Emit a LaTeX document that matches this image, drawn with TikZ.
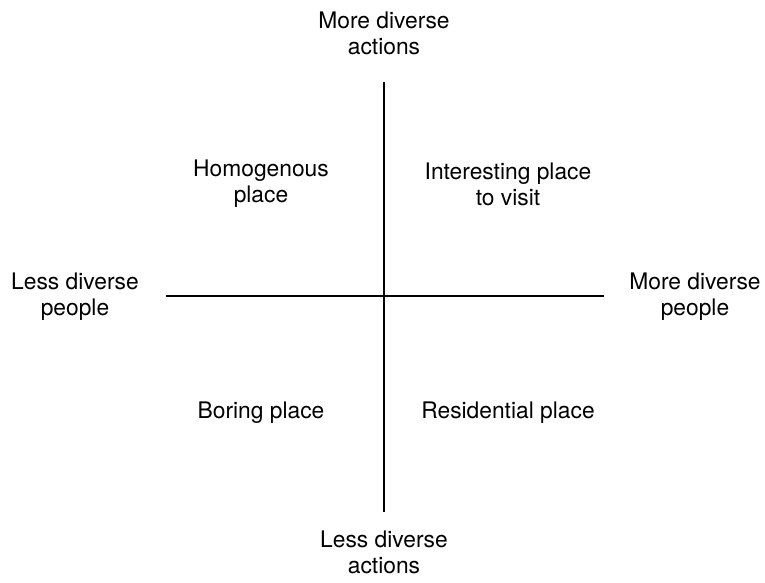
\documentclass[tikz,border=0pt]{standalone}
\usepackage{fontspec}
\setmainfont{TeX Gyre Heros}
\begin{document}
\begin{tikzpicture}[x=1pt,y=-1pt,
  axis/.style={line width=1.3pt,black},
  lbl/.style={align=center,inner sep=0pt,font=\fontsize{22.8}{26}\selectfont}]
\useasboundingbox (0,0) rectangle (765,582);
% axes
\coordinate (vtop) at (384,82);
\coordinate (vbot) at (384,512);
\coordinate (hleft) at (166,296);
\coordinate (hright) at (604,296);
\draw[axis] (vtop) -- (vbot);
\draw[axis] (hleft) -- (hright);
% axis labels
\node[lbl] (top) at (384,33) {More diverse\\actions};
\node[lbl] (bottom) at (384,552) {Less diverse\\actions};
\node[lbl] (left) at (75,297) {Less diverse\\people};
\node[lbl] (right) at (695,297) {More diverse\\people};
% quadrant labels
\node[lbl] (q2) at (261,184) {Homogenous\\place};
\node[lbl] (q1) at (508,184) {Interesting place\\to visit};
\node[lbl,anchor=base] (q3) at (261,418) {Boring place};
\node[lbl,anchor=base] (q4) at (508,418) {Residential place};
\end{tikzpicture}
\end{document}
